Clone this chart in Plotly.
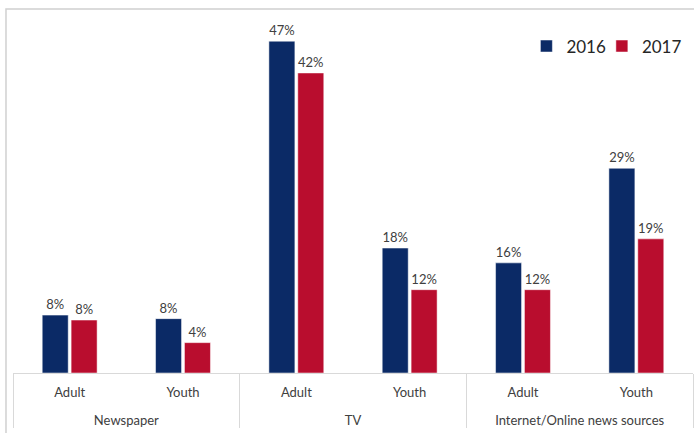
import plotly.graph_objects as go

groups = ["Newspaper", "Newspaper", "TV", "TV", "Internet/Online news sources", "Internet/Online news sources"]
subgroups = ["Adult", "Youth", "Adult", "Youth", "Adult", "Youth"]
values_2016 = [8.2, 7.7, 47.0, 17.7, 15.6, 29.0]
values_2017 = [7.5, 4.3, 42.5, 11.8, 11.8, 19.0]
labels_2016 = ["8%", "8%", "47%", "18%", "16%", "29%"]
labels_2017 = ["8%", "4%", "42%", "12%", "12%", "19%"]

FONT = "Lato, 'Open Sans', sans-serif"
TXT = "#404040"

group_labels = ["<br>" + g for g in groups]

fig = go.Figure()
fig.add_trace(go.Bar(
    x=[group_labels, subgroups], y=values_2016, name="2016", legend="legend",
    marker=dict(color="#0b2a66", line=dict(color="#ffffff", width=0.5)),
    text=labels_2016, textposition="outside", cliponaxis=False,
    textfont=dict(family=FONT, size=13, color=TXT),
))
fig.add_trace(go.Bar(
    x=[group_labels, subgroups], y=values_2017, name="2017", legend="legend2",
    marker=dict(color="#b90d2e", line=dict(color="#ffffff", width=0.5)),
    text=labels_2017, textposition="outside", cliponaxis=False,
    textfont=dict(family=FONT, size=13, color=TXT),
))

leg_common = dict(orientation="h", xanchor="left", y=0.925, yanchor="middle",
                  font=dict(family=FONT, size=17, color="#262626"),
                  itemwidth=30, bgcolor="rgba(0,0,0,0)")

fig.update_layout(
    width=694, height=433,
    margin=dict(l=13, r=1, t=20, b=60, autoexpand=False),
    paper_bgcolor="white", plot_bgcolor="white",
    barmode="group", bargap=0.49, bargroupgap=0.1,
    font=dict(family=FONT, size=13, color=TXT),
    showlegend=True,
    legend=dict(x=0.755, **leg_common),
    legend2=dict(x=0.866, **leg_common),
    xaxis=dict(type="multicategory", showline=True, linecolor="#d9d9d9", linewidth=1,
               showdividers=True, dividercolor="#d9d9d9", dividerwidth=1,
               automargin=False, ticklabelstandoff=7,
               tickfont=dict(family=FONT, size=13, color=TXT), ticks=""),
    yaxis=dict(range=[0, 50], visible=False, showgrid=False, zeroline=False, automargin=False),
    shapes=[dict(type="rect", xref="paper", yref="paper",
                 x0=-0.0103, x1=1.5, y0=-0.5, y1=1.031,
                 line=dict(color="#d0d0d0", width=1.5), fillcolor="rgba(0,0,0,0)", layer="below")],
)

fig.write_html("out.html", config={"displayModeBar": False},
               post_script="document.body.style.margin='0px';")
